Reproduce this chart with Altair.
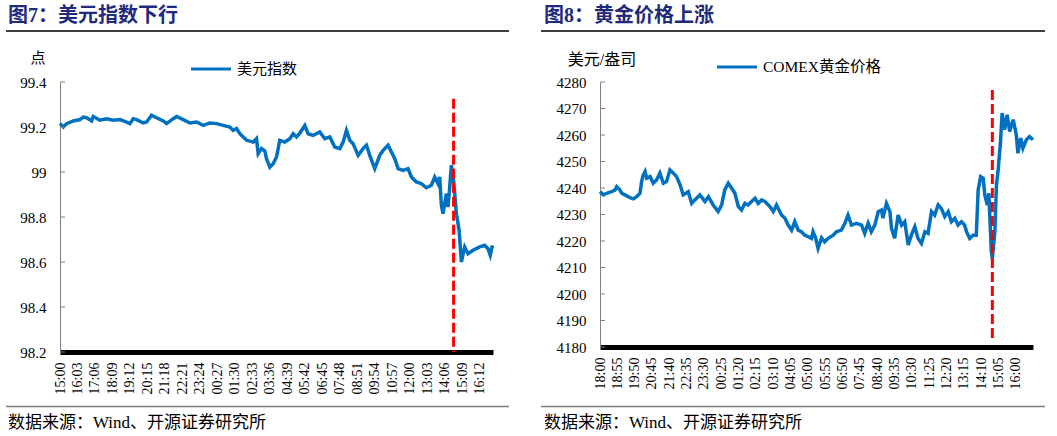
import json
import altair as alt
import pandas as pd

# ---- US dollar index, intraday (minutes after 15:00) ----
usd_minute = [
    0, 12, 24, 48, 72, 84, 96, 114, 120, 144,
    168, 192, 216, 240, 252, 264, 276, 300, 312, 330,
    348, 372, 384, 408, 420, 444, 468, 492, 516, 540,
    564, 588, 612, 624, 636, 648, 672, 696, 708, 714,
    726, 738, 744, 756, 768, 780, 792, 810, 828, 840,
    852, 864, 882, 894, 912, 936, 954, 972, 990, 1008,
    1020, 1032, 1044, 1056, 1074, 1092, 1104, 1116, 1134, 1152,
    1164, 1182, 1194, 1206, 1218, 1236, 1254, 1266, 1284, 1302,
    1320, 1338, 1350, 1362, 1368, 1374, 1380, 1392, 1398, 1404,
    1410, 1418, 1428, 1438, 1446, 1458, 1470, 1488, 1512, 1530,
    1542, 1550, 1558,
]
usd_value = [
    99.215, 99.200, 99.215, 99.227, 99.233, 99.244, 99.241, 99.227, 99.247, 99.230,
    99.237, 99.230, 99.233, 99.222, 99.215, 99.237, 99.233, 99.218, 99.222, 99.252,
    99.241, 99.227, 99.215, 99.237, 99.247, 99.233, 99.218, 99.222, 99.207, 99.218,
    99.215, 99.207, 99.200, 99.185, 99.193, 99.170, 99.141, 99.133, 99.148, 99.081,
    99.104, 99.093, 99.059, 99.022, 99.037, 99.067, 99.141, 99.133, 99.148, 99.170,
    99.156, 99.173, 99.207, 99.170, 99.163, 99.178, 99.148, 99.156, 99.111, 99.104,
    99.133, 99.185, 99.141, 99.126, 99.074, 99.104, 99.119, 99.074, 99.015, 99.074,
    99.096, 99.119, 99.089, 99.059, 99.015, 99.007, 99.015, 98.978, 98.956, 98.948,
    98.930, 98.941, 98.978, 98.948, 98.978, 98.852, 98.815, 98.904, 98.844, 98.933,
    99.030, 98.963, 98.815, 98.741, 98.600, 98.667, 98.637, 98.652, 98.667, 98.674,
    98.659, 98.630, 98.674,
]
usd_labels = [
    "15:00", "16:03", "17:06", "18:09", "19:12", "20:15", "21:18", "22:21", "23:24",
    "00:27", "01:30", "02:33", "03:36", "04:39", "05:42", "06:45", "07:48", "08:51",
    "09:54", "10:57", "12:00", "13:03", "14:06", "15:09", "16:12",
]
usd_y_ticks = [98.2, 98.4, 98.6, 98.8, 99.0, 99.2, 99.4]
usd_end = 1560
usd_event = 1418
usd_event_span = [99.326, 98.2]

# ---- COMEX gold, intraday (minutes after 18:00) ----
gold_minute = [
    0, 11, 21, 37, 48, 53, 63, 69, 79, 95,
    106, 116, 127, 132, 137, 143, 148, 159, 169, 180,
    190, 201, 211, 222, 233, 243, 254, 264, 280, 291,
    301, 317, 333, 344, 359, 375, 386, 396, 407, 418,
    428, 439, 449, 460, 470, 481, 492, 502, 513, 523,
    539, 550, 560, 576, 587, 597, 608, 618, 629, 639,
    650, 661, 671, 676, 684, 692, 703, 713, 724, 740,
    750, 766, 777, 787, 798, 814, 830, 840, 851, 861,
    872, 883, 893, 898, 909, 920, 925, 935, 946, 957,
    967, 978, 988, 999, 1009, 1020, 1031, 1041, 1052, 1062,
    1073, 1083, 1094, 1105, 1115, 1126, 1136, 1147, 1157, 1163,
    1173, 1184, 1194, 1200, 1208, 1216, 1221, 1229, 1234, 1238,
    1242, 1245, 1253, 1258, 1263, 1271, 1276, 1284, 1292, 1300,
    1311, 1321, 1326, 1335, 1342, 1353, 1363, 1374,
]
gold_value = [
    4238.6, 4237.4, 4238.0, 4238.6, 4239.3, 4240.5, 4239.3, 4238.0, 4237.4, 4236.4,
    4235.9, 4236.7, 4238.0, 4242.4, 4244.9, 4246.2, 4243.7, 4244.3, 4241.8, 4243.1,
    4245.6, 4241.8, 4242.4, 4246.8, 4245.6, 4244.3, 4241.2, 4237.4, 4238.6, 4234.2,
    4235.5, 4237.4, 4234.9, 4236.7, 4233.6, 4231.1, 4233.6, 4239.3, 4241.8, 4239.9,
    4238.0, 4233.0, 4231.7, 4234.2, 4233.6, 4234.9, 4236.1, 4234.2, 4235.5, 4234.9,
    4233.0, 4231.1, 4233.6, 4229.8, 4228.6, 4226.0, 4224.1, 4227.3, 4224.1, 4223.5,
    4222.2, 4221.6, 4221.0, 4223.5, 4221.2, 4217.2, 4221.2, 4219.7, 4221.0, 4222.2,
    4223.5, 4224.1, 4226.7, 4229.8, 4226.0, 4226.7, 4226.0, 4222.9, 4226.7, 4223.5,
    4226.0, 4231.1, 4231.7, 4228.6, 4234.2, 4231.1, 4224.8, 4221.0, 4229.8, 4226.0,
    4227.3, 4218.5, 4222.2, 4225.4, 4221.0, 4219.1, 4223.5, 4222.9, 4231.1, 4229.8,
    4233.6, 4232.3, 4229.2, 4231.1, 4227.3, 4228.6, 4226.0, 4227.3, 4226.0, 4223.5,
    4221.0, 4222.2, 4222.2, 4239.3, 4244.3, 4243.7, 4237.4, 4233.6, 4238.0, 4226.0,
    4215.9, 4213.4, 4223.5, 4241.2, 4246.2, 4257.6, 4268.3, 4262.0, 4267.6, 4261.3,
    4265.8, 4260.1, 4253.1, 4258.8, 4255.0, 4258.2, 4259.4, 4258.2,
]
gold_labels = [
    "18:00", "18:55", "19:50", "20:45", "21:40", "22:35", "23:30", "00:25", "01:20",
    "02:15", "03:10", "04:05", "05:00", "05:55", "06:50", "07:45", "08:40", "09:35",
    "10:30", "11:25", "12:20", "13:15", "14:10", "15:05", "16:00",
]
gold_y_ticks = [4180, 4190, 4200, 4210, 4220, 4230, 4240, 4250, 4260, 4270, 4280]
gold_end = 1374
gold_event = 1245
gold_event_span = [4277.0, 4183.2]

SOURCE = "数据来源：Wind、开源证券研究所"
FONT = "Liberation Serif, Noto Sans CJK SC"
BLUE = "#0070C0"
NAVY = "#1F2A7C"


def minutes_after_start(labels):
    """Tick positions: minutes elapsed since the first label, wrapping past midnight."""
    h0, m0 = map(int, labels[0].split(":"))
    start, prev, day, out = h0 * 60 + m0, None, 0, []
    for s in labels:
        h, m = map(int, s.split(":"))
        t = h * 60 + m
        if prev is not None and t < prev:
            day += 1
        prev = t
        out.append(day * 1440 + t - start)
    return out


def text_mark(s, x, y, size, **kw):
    return alt.Chart(pd.DataFrame({"s": [s]})).mark_text(
        font=FONT, fontSize=size, align=kw.pop("align", "left"), baseline="middle", **kw
    ).encode(text="s:N", x=alt.value(x), y=alt.value(y))


def hline(x1, x2, y, color, width):
    return alt.Chart(pd.DataFrame({"k": [0]})).mark_rule(
        color=color, strokeWidth=width
    ).encode(x=alt.value(x1), x2=alt.value(x2), y=alt.value(y))


def panel(minutes, values, labels, x_end, y_ticks, y_fmt, event, span,
          W, H, title, unit, unit_x, unit_size, series, series_size, deco):
    tick_pos = minutes_after_start(labels)
    label_expr = f"{json.dumps(labels)}[indexof({json.dumps(tick_pos)}, datum.value)]"
    x = alt.X(
        "t:Q",
        scale=alt.Scale(domain=[0, x_end], nice=False, zero=False),
        axis=alt.Axis(
            values=tick_pos, tickCount=len(tick_pos), labelExpr=label_expr,
            labelAngle=270, labelFont="Liberation Serif", labelFontSize=14,
            labelColor="#000", labelPadding=10, labelOverlap=False, labelFlush=False,
            ticks=False, grid=False, domainColor="#000", domainWidth=5, title=None,
        ),
    )
    y = alt.Y(
        "v:Q",
        scale=alt.Scale(domain=[y_ticks[0], y_ticks[-1]], nice=False, zero=False),
        axis=alt.Axis(
            values=y_ticks, tickCount=len(y_ticks), format=y_fmt,
            labelFont="Liberation Serif", labelFontSize=15, labelColor="#000",
            labelPadding=14, labelOverlap=False,
            ticks=False, grid=False, domainColor="#808080", domainWidth=1, title=None,
        ),
    )
    df = pd.DataFrame({"t": minutes, "v": values})
    line = alt.Chart(df).mark_line(color=BLUE, strokeWidth=3.5).encode(x=x, y=y)

    # short inward tick marks on the value axis
    inner_ticks = alt.Chart(pd.DataFrame({"v": y_ticks})).mark_rule(
        color="#808080", strokeWidth=1
    ).encode(y="v:Q", x=alt.value(0), x2=alt.value(5))

    event_line = alt.Chart(
        pd.DataFrame({"t": [event], "v": [span[0]], "v2": [span[1]]})
    ).mark_rule(color="#FF0000", strokeWidth=3, strokeDash=[10, 4]).encode(
        x="t:Q", y="v:Q", y2="v2"
    )

    d = deco
    layers = [
        line, inner_ticks, event_line,
        text_mark(title, d["title_x"], d["title_y"], 20, fontWeight="bold", color=NAVY),
        hline(d["rule_x1"], d["rule_x2"], d["title_rule_y"], "#000", 1.5),
        text_mark(unit, unit_x, d["unit_y"], unit_size, align="center", color="#000"),
        hline(d["leg_x"], d["leg_x"] + 40, d["leg_y"], BLUE, 3),
        text_mark(series, d["leg_x"] + 46, d["leg_y"], series_size, color="#000"),
        hline(d["rule_x1"], d["rule_x2"], d["src_rule_y"], "#7F7F7F", 1.5),
        text_mark(SOURCE, d["title_x"], d["src_y"], 17, color="#000"),
    ]
    return alt.layer(*layers).properties(width=W, height=H)


left = panel(
    usd_minute, usd_value, usd_labels, usd_end, usd_y_ticks, "~g",
    usd_event, usd_event_span, 433, 270,
    "图7：美元指数下行", "点", -22, 15, "美元指数", 15,
    dict(title_x=-52, title_y=-66, rule_x1=-54, rule_x2=449, title_rule_y=-51,
         unit_y=-24, leg_x=131, leg_y=-13, src_rule_y=324.5, src_y=341),
)
right = panel(
    gold_minute, gold_value, gold_labels, gold_end, gold_y_ticks, "d",
    gold_event, gold_event_span, 433, 265,
    "图8：黄金价格上涨", "美元/盎司", 2, 16, "COMEX黄金价格", 15.5,
    dict(title_x=-56, title_y=-66, rule_x1=-59, rule_x2=445, title_rule_y=-51,
         unit_y=-22, leg_x=117, leg_y=-15, src_rule_y=324.5, src_y=341),
)

chart = (
    alt.hconcat(left, right, spacing=30)
    .properties(padding={"left": 5, "top": 6, "right": 0, "bottom": 0},
                background="#ffffff")
    .configure_view(stroke=None)
)

chart.save("out.html", embed_options={"renderer": "svg", "actions": False})
